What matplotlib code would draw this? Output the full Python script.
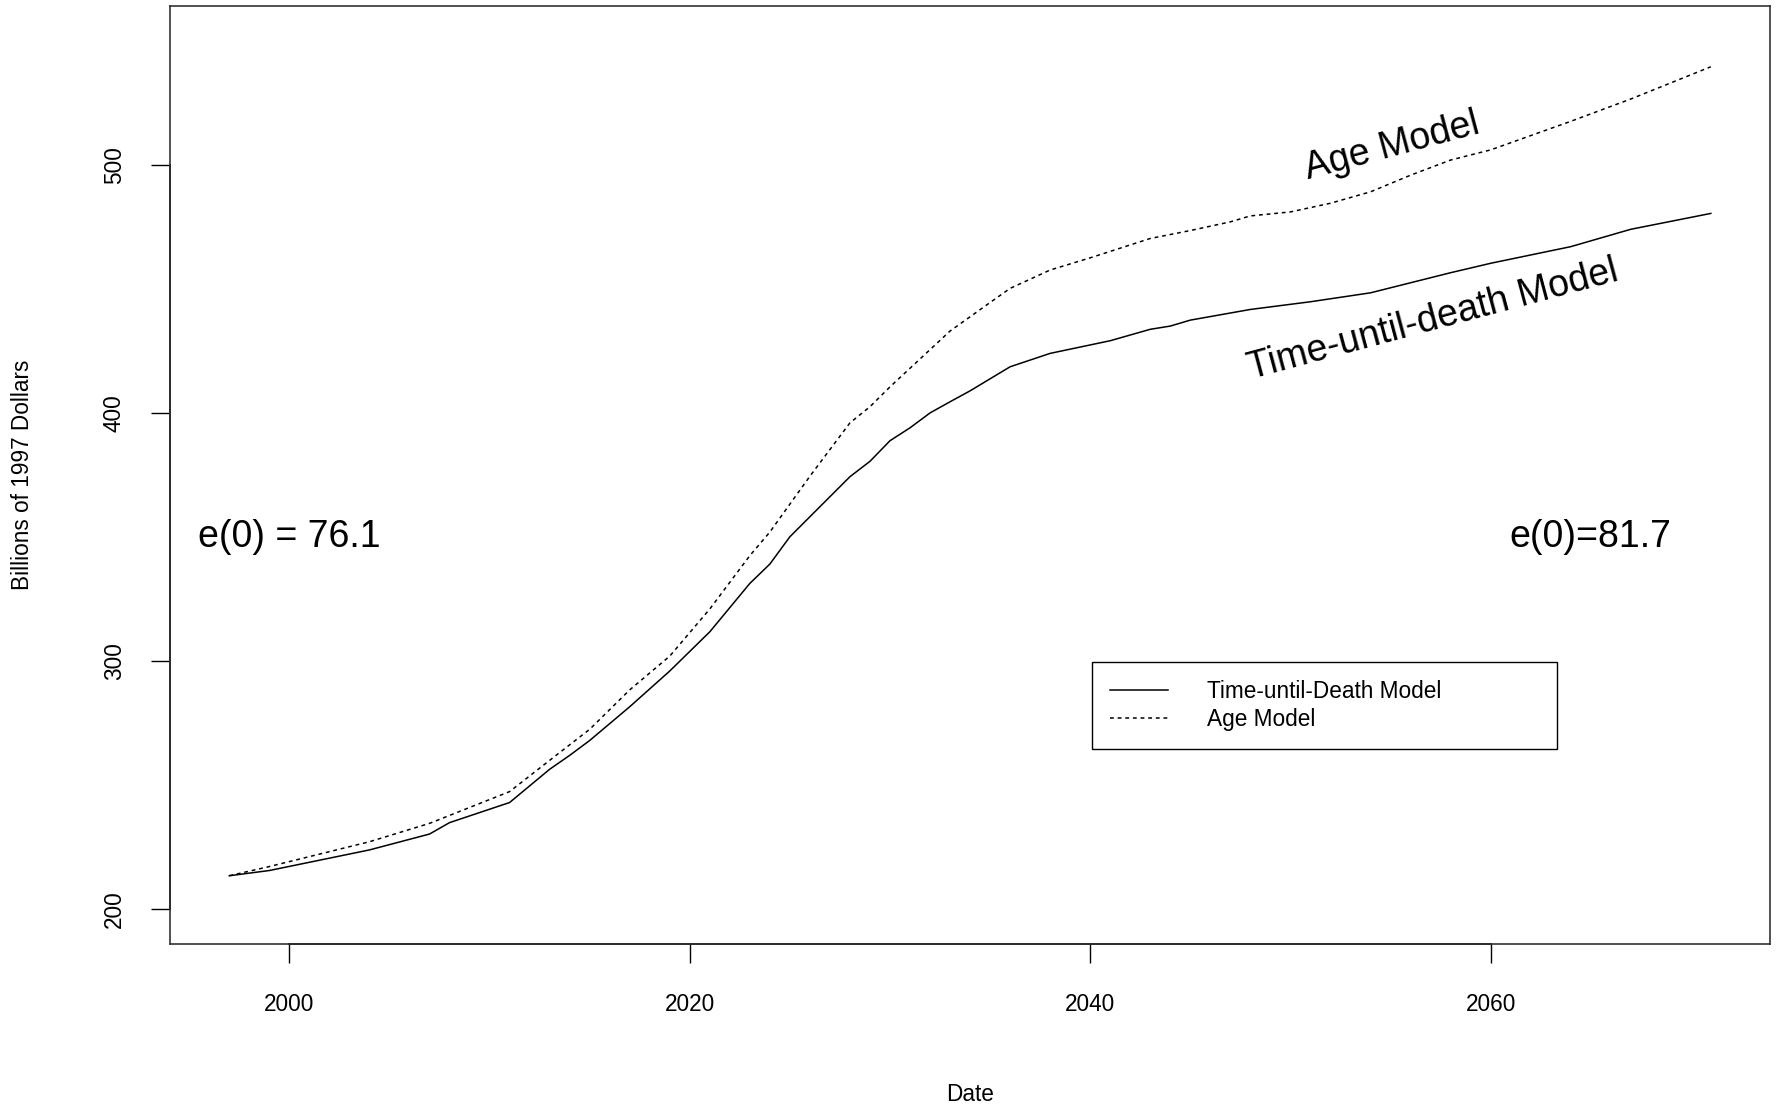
import matplotlib
matplotlib.use("Agg")
import matplotlib.pyplot as plt
from matplotlib.lines import Line2D

# Projected spending, billions of 1997 dollars
tud_years = [1997, 1999, 2004, 2007, 2008, 2011, 2013, 2014, 2015, 2017, 2019,
             2021, 2023, 2024, 2025, 2028, 2029, 2030, 2031, 2032, 2033, 2034,
             2036, 2038, 2041, 2043, 2044, 2045, 2048, 2051, 2054, 2058, 2060,
             2064, 2067, 2071]
tud_values = [213.5, 215.6, 223.9, 230.3, 234.9, 243.0, 256.4, 262.0, 268.0,
              281.6, 296.0, 311.8, 331.3, 339.1, 350.1, 374.3, 380.5, 388.8,
              394.0, 400.0, 404.5, 408.9, 418.6, 424.0, 429.1, 433.7, 435.0,
              437.4, 441.7, 444.8, 448.4, 456.5, 460.3, 467.0, 474.0, 480.4]

age_years = [1997, 1999, 2004, 2007, 2011, 2013, 2015, 2017, 2019, 2021, 2023,
             2024, 2026, 2028, 2029, 2030, 2031, 2032, 2033, 2035, 2036, 2038,
             2040, 2043, 2045, 2047, 2048, 2050, 2052, 2054, 2056, 2058, 2060,
             2064, 2067, 2071]
age_values = [213.5, 217.2, 227.2, 234.6, 247.4, 260.0, 272.5, 288.4, 302.0,
              321.0, 342.5, 352.0, 374.5, 396.0, 402.5, 410.5, 418.0, 425.5,
              433.0, 444.5, 450.2, 457.6, 462.5, 470.3, 473.5, 477.0, 479.4,
              481.0, 484.5, 489.1, 495.8, 501.9, 506.0, 517.5, 526.5, 539.5]

x_ticks = [2000, 2020, 2040, 2060]
y_ticks = [200, 300, 400, 500]

plt.rcParams['font.family'] = ['Liberation Sans', 'DejaVu Sans']

fig = plt.figure(figsize=(17.77, 11.06), dpi=100)
ax = fig.add_axes([0.0957, 0.1465, 0.9004, 0.8481])

dash = (0, (2.5, 2.5))
ax.plot(tud_years, tud_values, color='black', lw=1.1)
ax.plot(age_years, age_values, color='black', lw=1.1, linestyle=dash)

# R-style limits: 4% padding around the ranges
ax.set_xlim(1994.04, 2073.96)
ax.set_ylim(186, 564)

for side in ['left', 'bottom', 'right', 'top']:
    ax.spines[side].set_color('#333333')
    ax.spines[side].set_linewidth(1.2)

# axis lines run only between the outer ticks
ax.plot([x_ticks[0], x_ticks[-1]], [0, 0], transform=ax.get_xaxis_transform(),
        color='black', lw=1.3, clip_on=False)
ax.plot([0, 0], [y_ticks[0], y_ticks[-1]], transform=ax.get_yaxis_transform(),
        color='black', lw=1.3, clip_on=False)

ax.set_xticks(x_ticks)
ax.set_yticks(y_ticks)
ax.set_xticklabels([str(v) for v in x_ticks])
ax.set_yticklabels([str(v) for v in y_ticks], rotation=90, va='center')
ax.tick_params(axis='both', direction='out', length=14, width=1.0,
               labelsize=16.3, color='black')
ax.tick_params(axis='x', pad=21)
ax.tick_params(axis='y', pad=18)

ax.set_xlabel('Date', fontsize=16.3, va='center')
ax.xaxis.set_label_coords(0.5, -0.16)
ax.set_ylabel('Billions of 1997 Dollars', fontsize=16.3, va='center')
ax.yaxis.set_label_coords(-0.092, 0.5)

ax.text(2000, 350, 'e(0) = 76.1', fontsize=27, ha='center', va='center')
ax.text(2065, 350, 'e(0)=81.7', fontsize=27, ha='center', va='center')
ax.text(2055.05, 507.6, 'Age Model', fontsize=27, rotation=15,
        ha='center', va='center')
ax.text(2057.1, 437.3, 'Time-until-death Model', fontsize=27, rotation=15,
        ha='center', va='center')

handles = [Line2D([], [], color='black', lw=1.1),
           Line2D([], [], color='black', lw=1.1, linestyle=dash)]
leg = ax.legend(handles, ['Time-until-Death Model', 'Age Model'],
                loc='upper left', bbox_to_anchor=(0.5759, 0.0, 0.2911, 0.3007),
                mode='expand', borderaxespad=0, fontsize=16.3,
                handlelength=2.6, handletextpad=1.7, borderpad=0.8,
                labelspacing=0.2, fancybox=False, framealpha=1)
leg.get_frame().set_edgecolor('black')
leg.get_frame().set_linewidth(1.0)

fig.savefig('out.png', dpi=100)
